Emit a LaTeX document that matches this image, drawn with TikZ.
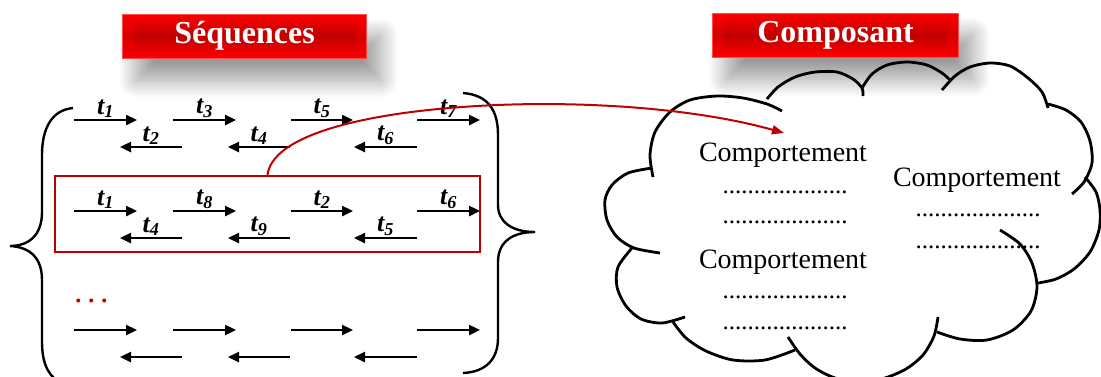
\documentclass[tikz,border=0pt]{standalone}
\usepackage{fontspec}
\setmainfont{Liberation Serif}
\usetikzlibrary{arrows.meta, shadows.blur}
\definecolor{rougevif}{HTML}{FF0000}
\definecolor{rougefonce}{HTML}{C00000}
\newcommand{\tlab}[1]{\textbf{\textit{t\textsubscript{#1}}}}
\newcommand{\pointilles}{....................}

\begin{document}
\begin{tikzpicture}[x=1pt, y=-1pt,
        % bandeaux de titre
        titre/.style={rectangle, minimum width=244pt, minimum height=44pt, inner sep=0pt, text=white,
            font=\fontsize{32}{36}\selectfont\bfseries,
            top color=rougevif, bottom color=rougevif, middle color=rougefonce,
            draw=rougevif!70!white, line width=0.5pt,
            blur shadow={shadow xshift=14pt, shadow yshift=-22pt, shadow blur radius=18pt, shadow blur steps=20, shadow opacity=40},
            path picture={
                \fill[rougevif, opacity=.35] (path picture bounding box.north west) -- ++(11pt,-11pt) -- ([xshift=11pt,yshift=11pt]path picture bounding box.south west) -- (path picture bounding box.south west) -- cycle;
                \fill[rougevif, opacity=.35] (path picture bounding box.north east) -- ++(-11pt,-11pt) -- ([xshift=-11pt,yshift=11pt]path picture bounding box.south east) -- (path picture bounding box.south east) -- cycle;
                \draw[rougefonce!50!rougevif, line width=0.7pt]
                    (path picture bounding box.north west) -- ++(11pt,-11pt)
                    (path picture bounding box.south west) -- ++(11pt,11pt)
                    (path picture bounding box.north east) -- ++(-11pt,-11pt)
                    (path picture bounding box.south east) -- ++(-11pt,11pt);
            }},
        % transitions
        fleche/.style={-{Triangle[length=11pt, width=10pt]}, line width=2.4pt},
        etiq/.style={above, inner sep=1pt, font=\fontsize{26}{28}\selectfont},
        % accolades et nuage
        accolade/.style={line width=2.4pt},
        nuage/.style={line width=2.8pt},
        % sequence choisie
        selection/.style={draw=rougefonce, line width=2pt, minimum width=425pt, minimum height=76pt, inner sep=0pt},
        lien/.style={draw=rougefonce, line width=2pt, -{Triangle[length=12pt, width=9pt]}},
        % textes du composant
        comp/.style={font=\fontsize{28}{32}\selectfont, inner sep=0pt},
        pts/.style={font=\fontsize{25}{28}\selectfont, inner sep=0pt}
    ]
    \useasboundingbox (0,0) rectangle (1101,376);

    % titres
    \node[titre] (tseq) at (244.5,36) {Séquences};
    \node[titre, minimum width=246pt] (tcomp) at (835.5,35) {Composant};

    % accolades
    \draw[accolade] (73,108) .. controls (52,110) and (42,128) .. (42,155) -- (42,212)
        .. controls (42,236) and (28,246) .. (10,246) .. controls (28,247) and (42,256) .. (42,280)
        -- (42,342) .. controls (42,366) and (50,378) .. (63,384);
    \draw[accolade] (463,93) .. controls (488,95) and (498,110) .. (498,135) -- (498,205)
        .. controls (498,222) and (512,232) .. (535,232) .. controls (512,232) and (498,242) .. (498,262)
        -- (498,338) .. controls (498,360) and (485,372) .. (463,373);

    % sequence choisie
    \node[selection] (selseq) at (267.5,214) {};

    % transitions vers la droite
    \foreach \xa/\xb/\y/\n in {74/137/120/1, 173/236/120/3, 291/353/120/5, 417/480/120/7,
                              74/137/211/1, 173/236/211/8, 291/353/211/2, 417/480/211/6}
        \draw[fleche] (\xa,\y) -- node[etiq] (d\y-\n) {\tlab{\n}} (\xb,\y);
    % transitions vers la gauche
    \foreach \xa/\xb/\y/\n in {182/120/147/2, 290/228/147/4, 417/354/147/6,
                              182/120/238/4, 290/228/238/9, 417/354/238/5}
        \draw[fleche] (\xa,\y) -- node[etiq] (g\y-\n) {\tlab{\n}} (\xb,\y);
    % derniere sequence
    \foreach \xa/\xb in {74/137, 173/236, 291/353, 417/480}
        \draw[fleche] (\xa,330) -- (\xb,330);
    \foreach \xa/\xb in {182/120, 290/228, 417/354}
        \draw[fleche] (\xa,357) -- (\xb,357);
    \node[font=\fontsize{34}{36}\selectfont, text=rougefonce, inner sep=0pt, anchor=base west] (suite) at (74,302) {.\hspace{4.5pt}.\hspace{4.5pt}.};

    % nuage du composant
    \draw[nuage] plot[smooth] coordinates {(653,177) (650,155) (655,132) (670,112) (690,100) (717,96) (743,98) (767,104) (782,111)};
    \draw[nuage] plot[smooth] coordinates {(767,99) (778,87) (795,77) (815,72) (837,72) (853,79) (862,88) (863,96)};
    \draw[nuage] plot[smooth] coordinates {(862,88) (872,74) (887,65) (907,62) (927,65) (942,73) (950,80)};
    \draw[nuage] plot[smooth] coordinates {(942,90) (955,76) (970,67) (990,63) (1010,66) (1028,78) (1042,92) (1048,108)};
    \draw[nuage] plot[smooth] coordinates {(1048,104) (1066,110) (1081,122) (1090,141) (1092,163) (1084,182) (1072,194)};
    \draw[nuage] plot[smooth] coordinates {(1085,177) (1096,192) (1100,210) (1099,230) (1090,252) (1074,269) (1056,279) (1038,283)};
    \draw[nuage] plot[smooth] coordinates {(1000,230) (1020,244) (1032,263) (1037,287) (1031,311) (1013,330) (987,340) (960,339) (937,332)};
    \draw[nuage] plot[smooth] coordinates {(938,317) (934,336) (923,355) (906,369) (885,378) (865,382)};
    \draw[nuage] plot[smooth] coordinates {(788,337) (800,354) (815,368) (835,378) (860,383)};
    \draw[nuage] plot[smooth] coordinates {(673,322) (686,338) (706,351) (733,360) (765,360) (795,350)};
    \draw[nuage] plot[smooth] coordinates {(685,317) (662,323) (641,319) (626,306) (617,287) (618,267) (632,248)};
    \draw[nuage] plot[smooth] coordinates {(660,253) (634,248) (617,237) (607,220) (605,200) (612,185) (628,173) (652,168)};

    % comportements
    \node[comp] (comp1) at (783,155) {Comportement};
    \node[pts] (p1a) at (785,192) {\pointilles};
    \node[pts] (p1b) at (785,222) {\pointilles};
    \node[comp] (comp2) at (783,262) {Comportement};
    \node[pts] (p2a) at (785,297) {\pointilles};
    \node[pts] (p2b) at (785,328) {\pointilles};
    \node[comp] (comp3) at (977,180) {Comportement};
    \node[pts] (p3a) at (978,215) {\pointilles};
    \node[pts] (p3b) at (978,247) {\pointilles};

    % lien vers le composant
    \coordinate (cible) at (784,133);
    \draw[lien] (selseq.north) .. controls (273,128) and (400,105) .. (540,104)
        .. controls (640,104) and (720,115) .. (cible);

\end{tikzpicture}
\end{document}
